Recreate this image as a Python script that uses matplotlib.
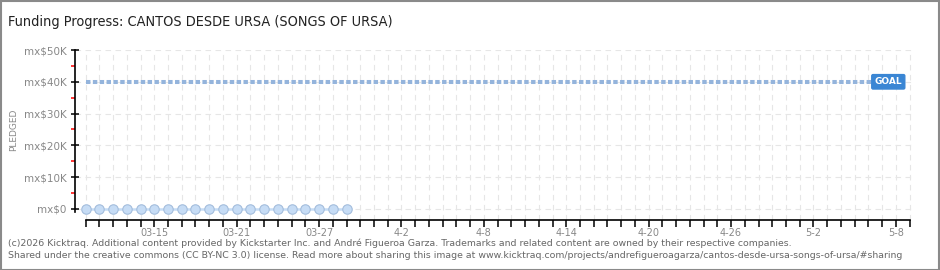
import matplotlib
matplotlib.use("Agg")
import matplotlib.pyplot as plt
import matplotlib.dates as mdates
import pandas as pd
from matplotlib.patches import Rectangle

# ---- data ----
dates = ["2026-03-10", "2026-03-11", "2026-03-12", "2026-03-13", "2026-03-14",
         "2026-03-15", "2026-03-16", "2026-03-17", "2026-03-18", "2026-03-19",
         "2026-03-20", "2026-03-21", "2026-03-22", "2026-03-23", "2026-03-24",
         "2026-03-25", "2026-03-26", "2026-03-27", "2026-03-28", "2026-03-29"]
pledged = [0, 0, 0, 0, 0, 0, 0, 0, 0, 0, 0, 0, 0, 0, 0, 0, 0, 0, 0, 0]
goal = 40000
campaign_start = "2026-03-10"
campaign_end = "2026-05-09"
label_dates = ["2026-03-15", "2026-03-21", "2026-03-27", "2026-04-02", "2026-04-08",
               "2026-04-14", "2026-04-20", "2026-04-26", "2026-05-02", "2026-05-08"]
label_texts = ["03-15", "03-21", "03-27", "4-2", "4-8", "4-14", "4-20", "4-26", "5-2", "5-8"]
y_ticks = [0, 10000, 20000, 30000, 40000, 50000]
y_labels = ["mx$0", "mx$10K", "mx$20K", "mx$30K", "mx$40K", "mx$50K"]
y_minor = [5000, 15000, 25000, 35000, 45000]

title = "Funding Progress: CANTOS DESDE URSA (SONGS OF URSA)"
footer1 = ("(c)2026 Kicktraq. Additional content provided by Kickstarter Inc. and André Figueroa Garza. "
           "Trademarks and related content are owned by their respective companies.")
footer2 = ("Shared under the creative commons (CC BY-NC 3.0) license. Read more about sharing this image at "
           "www.kicktraq.com/projects/andrefigueroagarza/cantos-desde-ursa-songs-of-ursa/#sharing")

# ---- figure ----
plt.rcParams['font.family'] = ['DejaVu Sans']
fig = plt.figure(figsize=(9.4, 2.7), dpi=100)
fig.patch.set_facecolor("white")

W, H = 940, 270
ax_left, ax_right = 75, 913
ax_top, ax_bottom = 50, 220
ax = fig.add_axes([ax_left / W, 1 - ax_bottom / H, (ax_right - ax_left) / W, (ax_bottom - ax_top) / H])

x = pd.to_datetime(dates)
start = pd.Timestamp(campaign_start)
end = pd.Timestamp(campaign_end)
all_days = pd.date_range(start, end, freq="D")

s_num = mdates.date2num(start)
e_num = mdates.date2num(end)
ax.set_xlim(s_num - 0.77, e_num + 0.25)
ax.set_ylim(-3460, 50000)

# grid
for d in all_days:
    ax.axvline(d, color="#e6e6e6", lw=0.8, ls=(0, (5, 4)), zorder=0)
for yv in y_ticks:
    ax.axhline(yv, color="#e6e6e6", lw=0.8, ls=(0, (5, 4)), zorder=0)

# goal line
ax.hlines(goal, s_num, e_num - 0.3, color="#94b4dc", lw=2.9, ls=(0, (1.1, 0.6)), zorder=2)
ax.text(e_num - 1.55, goal, "GOAL", color="white", fontsize=6.5, fontweight="bold",
        ha="center", va="center", zorder=4,
        bbox=dict(boxstyle="round,pad=0.3,rounding_size=0.15", fc="#3a86d4", ec="#3a86d4"))

# pledged series
ax.plot(x, pledged, color="#c6dcf5", lw=1.8, marker="o", markersize=6.8,
        markerfacecolor="#c6dcf5", markeredgecolor="#a3bddc", markeredgewidth=0.8,
        zorder=3, clip_on=False)

# spines
for sp in ["top", "right"]:
    ax.spines[sp].set_visible(False)
ax.spines["left"].set_bounds(-1000, 50000)
ax.spines["bottom"].set_bounds(s_num, e_num)
ax.spines["left"].set_color("black")
ax.spines["bottom"].set_color("black")
ax.spines["left"].set_linewidth(1.2)
ax.spines["bottom"].set_linewidth(1.2)

# x ticks
ax.set_xticks(mdates.date2num(all_days))
ax.set_xticklabels([""] * len(all_days))
ax.tick_params(axis="x", which="major", length=5, width=1.1, color="black", direction="out")
for d, t in zip(label_dates, label_texts):
    ax.text(mdates.date2num(pd.Timestamp(d)), -6000, t, ha="center", va="top",
            fontsize=7, color="#888888")

# y ticks
ax.set_yticks(y_ticks)
ax.set_yticklabels(y_labels, fontsize=7.5, color="#888888")
ax.tick_params(axis="y", which="major", length=6, width=1.1, color="black",
               direction="inout", pad=3)
ax.set_yticks(y_minor, minor=True)
ax.tick_params(axis="y", which="minor", length=3, width=1.1, color="red", direction="out")

fig.text(14 / W, 1 - 130 / H, "PLEDGED", rotation=90, ha="center", va="center",
         fontsize=6.5, color="#888888")

fig.text(8 / W, 1 - 22 / H, title, fontsize=10.4, fontstretch="condensed",
         color="#222222", ha="left", va="center")
fig.text(8 / W, 1 - 243 / H, footer1, fontsize=6.77, color="#666666", ha="left", va="center")
fig.text(8 / W, 1 - 256 / H, footer2, fontsize=6.77, color="#666666", ha="left", va="center")

fig.add_artist(Rectangle((0.5 / W, 0.5 / H), 1 - 1.5 / W, 1 - 1.5 / H, transform=fig.transFigure,
                         fill=False, ec="#8a8a8a", lw=1.5))

fig.savefig("out.png", dpi=100, facecolor="white")
